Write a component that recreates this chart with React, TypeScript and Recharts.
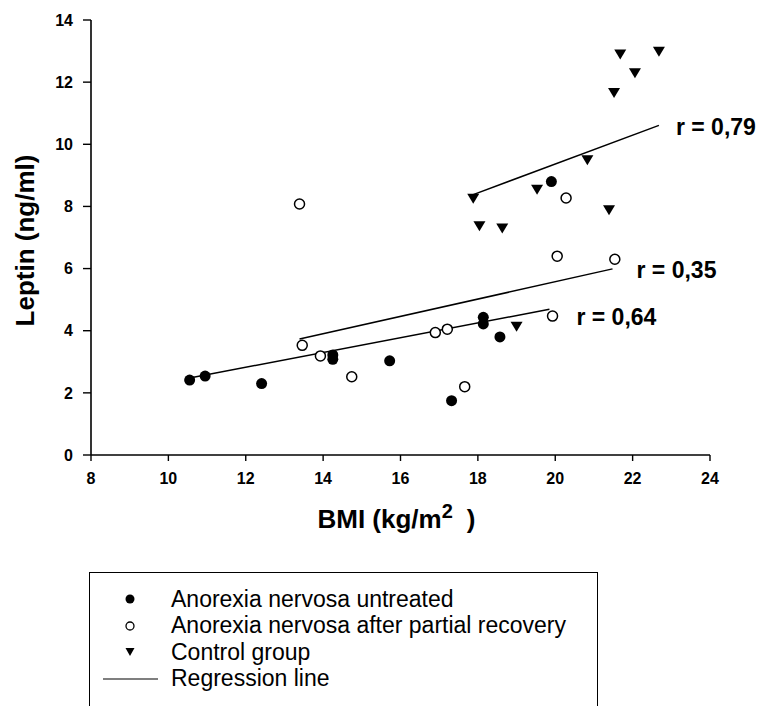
import React from 'react';
import { ScatterChart, Scatter, XAxis, YAxis, ReferenceLine } from 'recharts';

const FONT = '"Liberation Sans", Arial, Helvetica, sans-serif';

const xTicks = [8, 10, 12, 14, 16, 18, 20, 22, 24];
const yTicks = [0, 2, 4, 6, 8, 10, 12, 14];

// Anorexia nervosa untreated
const untreatedBmi = [10.55, 10.95, 12.41, 14.25, 14.25, 15.72, 17.32, 18.14, 18.14, 18.57, 19.9];
const untreatedLeptin = [2.41, 2.54, 2.3, 3.22, 3.08, 3.03, 1.75, 4.43, 4.22, 3.8, 8.8];

// Anorexia nervosa after partial recovery
const recoveryBmi = [13.39, 13.46, 13.93, 14.74, 16.9, 17.21, 17.66, 19.93, 20.05, 20.28, 21.54];
const recoveryLeptin = [8.08, 3.53, 3.19, 2.52, 3.94, 4.05, 2.2, 4.47, 6.4, 8.27, 6.3];

// Control group
const controlBmi = [17.88, 18.04, 18.63, 19.0, 19.53, 20.83, 21.39, 21.52, 21.68, 22.06, 22.68];
const controlLeptin = [8.25, 7.36, 7.29, 4.13, 8.54, 9.49, 7.88, 11.65, 12.89, 12.29, 12.98];

// regression lines (controls, recovery, untreated)
const regLabels = ['r = 0,79', 'r = 0,35', 'r = 0,64'];
const regStart = [[17.88, 8.38], [13.39, 3.73], [10.55, 2.48]];
const regEnd = [[22.68, 10.61], [21.48, 5.99], [19.85, 4.69]];

const legendLabels = [
  'Anorexia nervosa untreated',
  'Anorexia nervosa after partial recovery',
  'Control group',
  'Regression line',
];

const zip = (xs: number[], ys: number[]) => xs.map((x, i) => ({ x, y: ys[i] }));

const untreated = zip(untreatedBmi, untreatedLeptin);
const recovery = zip(recoveryBmi, recoveryLeptin);
const control = zip(controlBmi, controlLeptin);

const FilledDot = (p: any) => <circle cx={p.cx} cy={p.cy} r={5.5} fill="#000" />;
const OpenDot = (p: any) => (
  <circle cx={p.cx} cy={p.cy} r={5} fill="#fff" stroke="#000" strokeWidth={1.5} />
);
const DownTri = (p: any) => {
  const w = 12, h = 10;
  return (
    <polygon
      points={`${p.cx - w / 2},${p.cy - h / 2} ${p.cx + w / 2},${p.cy - h / 2} ${p.cx},${p.cy + h / 2}`}
      fill="#000"
    />
  );
};

function RegLabel({ viewBox, text, dx, dy }: any) {
  const { x, y, width } = viewBox || {};
  return (
    <text x={x + width + dx} y={y + dy} fontFamily={FONT} fontWeight="bold" fontSize={23} fill="#000"
      dominantBaseline="central">
      {text}
    </text>
  );
}

function YTitle({ viewBox }: any) {
  const cx = 34;
  const cy = viewBox.y + viewBox.height / 2 + 3;
  return (
    <text x={cx} y={cy} transform={`rotate(-90 ${cx} ${cy})`} textAnchor="middle"
      fontFamily={FONT} fontWeight="bold" fontSize={26} fill="#000">
      Leptin (ng/ml)
    </text>
  );
}

function XTitle({ viewBox }: any) {
  const cx = viewBox.x + viewBox.width / 2 - 4;
  const y = viewBox.y + 73;
  return (
    <text x={cx} y={y} textAnchor="middle" fontFamily={FONT} fontWeight="bold" fontSize={26} fill="#000">
      BMI (kg/m<tspan dy={-10} fontSize={20}>2</tspan>
      <tspan dy={10} dx={14}>)</tspan>
    </text>
  );
}

function LegendMarker({ i }: { i: number }) {
  if (i === 0) return <svg width={70} height={20}><circle cx={40} cy={10} r={4.5} fill="#000" /></svg>;
  if (i === 1)
    return <svg width={70} height={20}><circle cx={40} cy={10} r={4} fill="#fff" stroke="#000" strokeWidth={1.3} /></svg>;
  if (i === 2) return <svg width={70} height={20}><polygon points="35.5,6 44.5,6 40,14" fill="#000" /></svg>;
  return <svg width={70} height={20}><line x1={13} y1={10} x2={68} y2={10} stroke="#000" strokeWidth={1.2} /></svg>;
}

export default function App() {
  const tick = { fontFamily: FONT, fontWeight: 'bold', fontSize: 16, fill: '#000' } as any;
  return (
    <div style={{ position: 'absolute', left: 0, top: 0, width: 763, height: 706, overflow: 'hidden', background: '#fff' }}>
      <ScatterChart width={763} height={706} margin={{ top: 20, right: 53, left: 0, bottom: 0 }}>
        <XAxis
          type="number"
          dataKey="x"
          domain={[8, 24]}
          ticks={xTicks}
          interval={0}
          height={251}
          tickSize={6}
          tickMargin={12}
          tick={tick}
          axisLine={{ stroke: '#000', strokeWidth: 1.6 }}
          tickLine={{ stroke: '#000', strokeWidth: 1.4 }}
          label={<XTitle />}
        />
        <YAxis
          type="number"
          dataKey="y"
          domain={[0, 14]}
          ticks={yTicks}
          interval={0}
          width={91}
          tickSize={8}
          tickMargin={10}
          tick={tick}
          axisLine={{ stroke: '#000', strokeWidth: 1.6 }}
          tickLine={{ stroke: '#000', strokeWidth: 1.4 }}
          label={<YTitle />}
        />
        {regLabels.map((t, i) => (
          <ReferenceLine
            key={t}
            segment={[
              { x: regStart[i][0], y: regStart[i][1] },
              { x: regEnd[i][0], y: regEnd[i][1] },
            ]}
            stroke="#000"
            strokeWidth={1.5}
            label={<RegLabel text={t} dx={[17, 24, 27][i]} dy={[2, 1, 8][i]} />}
          />
        ))}
        <Scatter data={untreated} shape={FilledDot} isAnimationActive={false} />
        <Scatter data={recovery} shape={OpenDot} isAnimationActive={false} />
        <Scatter data={control} shape={DownTri} isAnimationActive={false} />
      </ScatterChart>
      <div
        style={{
          position: 'absolute', left: 89, top: 572, width: 509, height: 160,
          border: '1.5px solid #000', boxSizing: 'border-box', paddingTop: 13,
          fontFamily: FONT, fontSize: 23, color: '#000',
        }}
      >
        {legendLabels.map((l, i) => (
          <div key={l} style={{ display: 'flex', alignItems: 'center', height: 26.5, whiteSpace: 'nowrap' }}>
            <div style={{ width: 81, flex: 'none', display: 'flex', alignItems: 'center' }}>
              <LegendMarker i={i} />
            </div>
            <span>{l}</span>
          </div>
        ))}
      </div>
    </div>
  );
}
